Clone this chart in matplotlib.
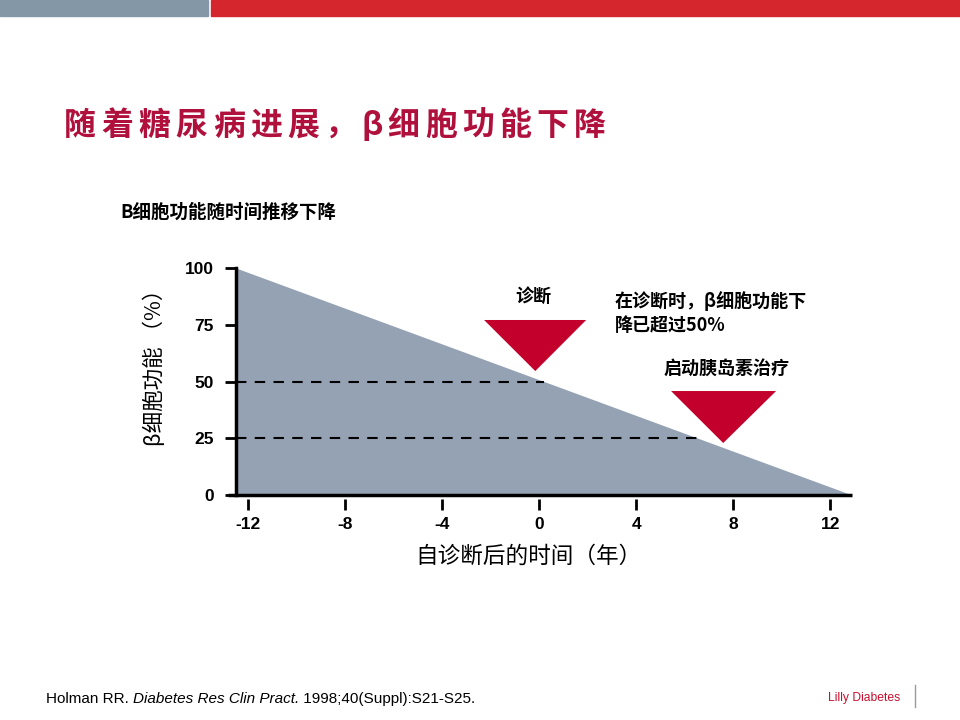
import matplotlib
matplotlib.use("Agg")
import matplotlib.pyplot as plt
from matplotlib.patches import Polygon, Rectangle

plt.rcParams['font.family'] = ['Noto Sans CJK SC', 'DejaVu Sans']

# data
years = [-12.5, 12.9]
beta_func = [100, 0]
x_ticks = [-12, -8, -4, 0, 4, 8, 12]
y_ticks = [0, 25, 50, 75, 100]
ref_levels = [50, 25]
ref_ends = [0.2, 6.6]
diag_tri = [(-2.27, 77.1), (1.94, 77.1), (-0.16, 54.6)]
insulin_tri = [(5.44, 45.8), (9.77, 45.8), (7.59, 22.9)]

title = "随着糖尿病进展，β细胞功能下降"
subtitle = "B细胞功能随时间推移下降"
xlabel = "自诊断后的时间（年）"
ylabel = "β细胞功能 （%）"
note_diag = "诊断"
note_50 = "在诊断时，β细胞功能下\n降已超过50%"
note_ins = "启动胰岛素治疗"
ref_parts = [("Holman RR. ", 'normal'), ("Diabetes Res Clin Pract.", 'italic'),
             (" 1998;40(Suppl):S21-S25.", 'normal')]

W, H = 960, 720
fig = plt.figure(figsize=(9.6, 7.2), dpi=100)

# top bars
fig.patches.append(Rectangle((0, 1 - 16 / H), 208 / W, 16 / H, transform=fig.transFigure,
                             color='#8497A6', zorder=0))
fig.patches.append(Rectangle((211 / W, 1 - 16 / H), 1 - 211 / W, 16 / H, transform=fig.transFigure,
                             color='#D5262E', zorder=0))

# title with wide letter spacing
tx = 64
for ch in title:
    fig.text(tx / W, 1 - 126 / H, ch, fontsize=23, fontweight='bold', color='#B0103C',
             va='center', ha='left')
    tx += 26 if ch == 'β' else 37.2

fig.text(120 / W, 1 - 212 / H, subtitle, fontsize=13.3, fontweight='bold', va='center', ha='left')

ax = fig.add_axes([236 / W, 1 - 495 / H, (852 - 236) / W, (495 - 268) / H])
ax.spines['bottom'].set_position(('outward', 3))
ax.spines['bottom'].set_visible(False)
for s in ['top', 'right']:
    ax.spines[s].set_visible(False)
ax.spines['left'].set_linewidth(2.5)

ax.fill_between(years, beta_func, 0, color='#94A2B4', lw=0, zorder=1)
for lvl, xe in zip(ref_levels, ref_ends):
    ax.plot([years[0], xe], [lvl, lvl], color='black', lw=1.5, ls=(0, (5, 4)), zorder=2)
ax.add_patch(Polygon(diag_tri, closed=True, color='#C2002B', lw=0, zorder=3, clip_on=False))
ax.add_patch(Polygon(insulin_tri, closed=True, color='#C2002B', lw=0, zorder=3, clip_on=False))

ax.set_xlim(years[0], years[1])
ax.set_ylim(0, 100)
ax.set_xticks(x_ticks)
ax.set_yticks(y_ticks)
tick_font = dict(family='Liberation Sans', weight='bold', size=12.5)
ax.set_xticklabels([str(v) for v in x_ticks], fontdict=tick_font)
ax.set_yticklabels([str(v) for v in y_ticks], fontdict=tick_font)

ax.plot([-12.85, years[1]], [0, 0], color='black', lw=2.5, clip_on=False, zorder=4,
        solid_capstyle='butt')
ax.tick_params(axis='y', length=8, width=2, pad=8)
ax.tick_params(axis='x', length=8, width=2, pad=5)
ax.patch.set_alpha(0)

ax.set_xlabel(xlabel, fontsize=16.3, labelpad=10)
ax.xaxis.set_label_coords((528 - 236) / (852 - 236), -50 / (495 - 268))
ax.set_ylabel(ylabel, fontsize=15.5)
ax.yaxis.set_label_coords(-70 / (852 - 236), (495 - 362) / (495 - 268))

fig.text(533 / W, 1 - 296 / H, note_diag, fontsize=13, fontweight='bold', ha='center', va='center')
fig.text(615 / W, 1 - 313 / H, note_50, fontsize=13, fontweight='bold', ha='left', va='center',
         linespacing=1.3)
fig.text(727 / W, 1 - 368 / H, note_ins, fontsize=13, fontweight='bold', ha='center', va='center')

# footer, pieces laid out one after another
renderer = fig.canvas.get_renderer()
fx = 46
for txt, style in ref_parts:
    t = fig.text(fx / W, 1 - 699 / H, txt, fontsize=11, family='Liberation Sans', style=style,
                 ha='left', va='center')
    fx = t.get_window_extent(renderer).x1
fig.text(900 / W, 1 - 698 / H, "Lilly Diabetes", fontsize=8.7, family='Liberation Sans',
         color='#C8102E', ha='right', va='center')
fig.add_artist(plt.Line2D([915 / W, 915 / W], [1 - 707 / H, 1 - 685 / H], color='#999999', lw=1))

fig.savefig('out.png', dpi=100)
